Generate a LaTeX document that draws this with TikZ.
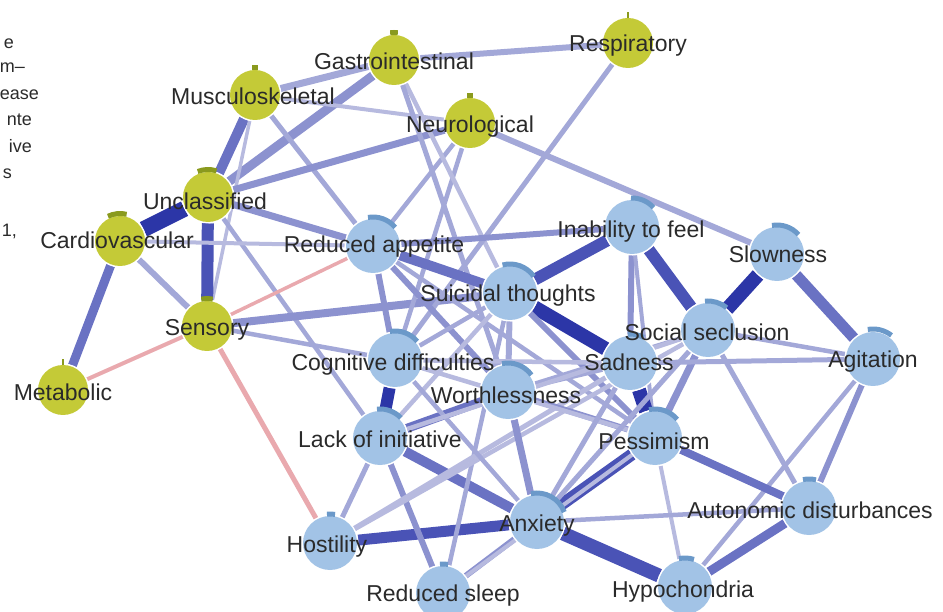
\documentclass[tikz,border=0pt]{standalone}
\usepackage{fontspec}
\setmainfont{Liberation Sans}
\definecolor{w1}{HTML}{B7BADF}
\definecolor{w2}{HTML}{A3A8D8}
\definecolor{w3}{HTML}{8C92CF}
\definecolor{w4}{HTML}{6A72C3}
\definecolor{w5}{HTML}{4A53B6}
\definecolor{w6}{HTML}{2C36A7}
\definecolor{pk}{HTML}{E9A9AE}
\definecolor{ycol}{HTML}{C4CA37}
\definecolor{ytab}{HTML}{8A9A1E}
\definecolor{bcol}{HTML}{A2C3E6}
\definecolor{btab}{HTML}{6B99C9}
\definecolor{labcol}{HTML}{2A2A2A}
\begin{document}
\begin{tikzpicture}[x=1pt,y=1pt,
  yel/.style={circle, fill=ycol, draw=white, line width=2.5pt, minimum size=50pt, inner sep=0pt},
  blu/.style={circle, fill=bcol, draw=white, line width=2.5pt, minimum size=54pt, inner sep=0pt},
  lab/.style={font=\fontsize{23}{25}\selectfont, text=labcol, inner sep=0pt, anchor=base},
  captxt/.style={font=\fontsize{18}{20}\selectfont, text=labcol, inner sep=0pt, anchor=base east},
  ed/.style 2 args={draw=#2, line width=#1pt},
  ytabs/.style={draw=ytab, line width=5pt},
  btabs/.style={draw=btab, line width=5pt}]
\useasboundingbox (0,-612) rectangle (943,0);
\clip (0,-612) rectangle (943,0);
% caption fragments
\node[captxt] (c1) at (14,-49) {e};
\node[captxt] (c2) at (25,-73) {m–};
\node[captxt] (c3) at (39,-100) {ease};
\node[captxt] (c4) at (32,-126) {nte};
\node[captxt] (c5) at (32,-153) {ive};
\node[captxt] (c6) at (12,-179) {s};
\node[captxt] (c7) at (17,-237) {1,};
% node circles
\node[yel] (GI) at (394,-60) {};
\node[yel] (MS) at (255,-95) {};
\node[yel] (NE) at (470,-123) {};
\node[yel] (RE) at (628,-43) {};
\node[yel] (UN) at (208,-197) {};
\node[yel] (CA) at (120,-241) {};
\node[yel] (SE) at (207,-326) {};
\node[yel] (ME) at (63,-390) {};
\node[blu] (RA) at (373,-246) {};
\node[blu] (ST) at (510,-293) {};
\node[blu] (IF) at (632,-227) {};
\node[blu] (SL) at (777,-254) {};
\node[blu] (SS) at (708,-330) {};
\node[blu] (SA) at (630,-363) {};
\node[blu] (AG) at (873,-359) {};
\node[blu] (CD) at (395,-360) {};
\node[blu] (WO) at (508,-392) {};
\node[blu] (LI) at (380,-438) {};
\node[blu] (PE) at (655,-438) {};
\node[blu] (AN) at (537,-522) {};
\node[blu] (HO) at (330,-543) {};
\node[blu] (RS) at (443,-593) {};
\node[blu] (AD) at (809,-508) {};
\node[blu] (HY) at (685,-587) {};
% edges
\draw[ed={6}{w2}] (GI) -- (RE);
\draw[ed={7}{w2}] (GI) -- (MS);
\draw[ed={9}{w3}] (GI) -- (UN);
\draw[ed={10}{w4}] (MS) -- (UN);
\draw[ed={4}{w1}] (MS) -- (NE);
\draw[ed={5}{w2}] (MS) -- (RA);
\draw[ed={3.5}{w1}] (MS) -- (SE);
\draw[ed={7}{w3}] (UN) -- (NE);
\draw[ed={16}{w6}] (UN) -- (CA);
\draw[ed={12}{w5}] (UN) -- (SE);
\draw[ed={7}{w3}] (UN) -- (RA);
\draw[ed={4.5}{w2}] (UN) -- (LI);
\draw[ed={9}{w4}] (CA) -- (ME);
\draw[ed={6}{w2}] (CA) -- (SE);
\draw[ed={4}{w1}] (CA) -- (RA);
\draw[ed={4}{pk}] (SE) -- (ME);
\draw[ed={3.5}{pk}] (SE) -- (RA);
\draw[ed={5}{pk}] (SE) -- (HO);
\draw[ed={8}{w3}] (SE) -- (ST);
\draw[ed={4.5}{w2}] (SE) -- (CD);
\draw[ed={4.5}{w2}] (NE) -- (RA);
\draw[ed={4.5}{w2}] (NE) -- (CD);
\draw[ed={6}{w2}] (NE) -- (SL);
\draw[ed={4.5}{w1}] (GI) -- (ST);
\draw[ed={5}{w2}] (GI) -- (WO);
\draw[ed={5}{w2}] (RE) -- (CD);
\draw[ed={6}{w3}] (RA) -- (IF);
\draw[ed={10}{w4}] (RA) -- (ST);
\draw[ed={6}{w3}] (RA) -- (CD);
\draw[ed={6}{w3}] (RA) -- (WO);
\draw[ed={4.5}{w2}] (RA) -- (PE);
\draw[ed={12}{w5}] (ST) -- (IF);
\draw[ed={14}{w6}] (ST) -- (SA);
\draw[ed={6}{w3}] (ST) -- (PE);
\draw[ed={6}{w2}] (ST) -- (WO);
\draw[ed={4.5}{w2}] (ST) -- (CD);
\draw[ed={4.5}{w1}] (ST) -- (LI);
\draw[ed={12}{w5}] (IF) -- (SS);
\draw[ed={6}{w3}] (IF) -- (SA);
\draw[ed={4}{w2}] (IF) -- (PE);
\draw[ed={14}{w6}] (SL) -- (SS);
\draw[ed={11}{w4}] (SL) -- (AG);
\draw[ed={4.5}{w2}] (SS) -- (AG);
\draw[ed={7}{w3}] (SS) -- (PE);
\draw[ed={5}{w2}] (SS) -- (AD);
\draw[ed={5}{w2}] (SA) -- (AG);
\draw[ed={14}{w6}] (SA) -- (PE);
\draw[ed={6}{w3}] (AG) -- (AD);
\draw[ed={4.5}{w2}] (AG) -- (HY);
\draw[ed={8}{w4}] (PE) -- (AD);
\draw[ed={4}{w1}] (PE) -- (HY);
\draw[ed={12}{w5}] (PE) -- (AN);
\draw[ed={9}{w4}] (AD) -- (HY);
\draw[ed={4.5}{w2}] (AD) -- (AN);
\draw[ed={14}{w5}] (AN) -- (HY);
\draw[ed={11}{w5}] (AN) -- (HO);
\draw[ed={10}{w4}] (AN) -- (LI);
\draw[ed={6}{w3}] (AN) -- (RS);
\draw[ed={4}{w1}] (RS) -- (PE);
\draw[ed={4.5}{w2}] (RS) -- (ST);
\draw[ed={5}{w2}] (LI) -- (HO);
\draw[ed={6}{w3}] (LI) -- (RS);
\draw[ed={9}{w4}] (LI) -- (WO);
\draw[ed={12}{w6}] (CD) -- (LI);
\draw[ed={5}{w1}] (HO) -- (SA);
\draw[ed={4.5}{w1}] (HO) -- (SS);
\draw[ed={7}{w3}] (WO) -- (AN);
\draw[ed={4.5}{w2}] (WO) -- (SA);
\draw[ed={4.5}{w2}] (WO) -- (SS);
\draw[ed={6}{w3}] (WO) -- (PE);
\draw[ed={4.5}{w1}] (CD) -- (SA);
\draw[ed={4.5}{w1}] (CD) -- (PE);
\draw[ed={4.5}{w2}] (CD) -- (AN);
\draw[ed={4.5}{w1}] (LI) -- (SS);
\draw[ed={5}{w2}] (AN) -- (SS);
\draw[ed={5}{w2}] (AN) -- (SA);
% circles redrawn on top of edges
\foreach \n in {GI,MS,NE,RE,UN,CA,SE,ME}
  {\fill[white] (\n.center) circle (26.5); \fill[ycol] (\n.center) circle (25);}
\foreach \n in {RA,ST,IF,SL,SS,SA,AG,CD,WO,LI,PE,AN,HO,RS,AD,HY}
  {\fill[white] (\n.center) circle (28.5); \fill[bcol] (\n.center) circle (27);}
% tabs on yellow nodes
\draw[ytabs] (GI.center) ++(98:27.5) arc[start angle=98, end angle=82, radius=27.5];
\draw[ytabs] (MS.center) ++(96:27.5) arc[start angle=96, end angle=84, radius=27.5];
\draw[ytabs] (NE.center) ++(96:27.5) arc[start angle=96, end angle=84, radius=27.5];
\draw[ytab, line width=1.5pt] (RE.center) ++(90:25) -- ++(0,6);
\draw[ytabs] (UN.center) ++(112:27.5) arc[start angle=112, end angle=72, radius=27.5];
\draw[ytabs] (CA.center) ++(116:27.5) arc[start angle=116, end angle=76, radius=27.5];
\draw[ytabs] (SE.center) ++(102:27.5) arc[start angle=102, end angle=78, radius=27.5];
\draw[ytab, line width=1.5pt] (ME.center) ++(90:25) -- ++(0,6);
% arcs on blue nodes
\draw[btabs] (RA.center) ++(100:29) arc[start angle=100, end angle=40, radius=29];
\draw[btabs] (ST.center) ++(105:29) arc[start angle=105, end angle=35, radius=29];
\draw[btabs] (IF.center) ++(92:29) arc[start angle=92, end angle=42, radius=29];
\draw[btabs] (SL.center) ++(100:29) arc[start angle=100, end angle=42, radius=29];
\draw[btabs] (SS.center) ++(96:29) arc[start angle=96, end angle=50, radius=29];
\draw[btabs] (SA.center) ++(94:29) arc[start angle=94, end angle=62, radius=29];
\draw[btabs] (AG.center) ++(100:30) arc[start angle=100, end angle=52, radius=30];
\draw[btabs] (CD.center) ++(100:29) arc[start angle=100, end angle=40, radius=29];
\draw[btabs] (WO.center) ++(102:29) arc[start angle=102, end angle=36, radius=29];
\draw[btabs] (LI.center) ++(96:29) arc[start angle=96, end angle=44, radius=29];
\draw[btabs] (PE.center) ++(102:29) arc[start angle=102, end angle=40, radius=29];
\draw[btabs] (AN.center) ++(102:29) arc[start angle=102, end angle=20, radius=29];
\draw[btabs] (HO.center) ++(96:29) arc[start angle=96, end angle=80, radius=29];
\draw[btabs] (RS.center) ++(96:29) arc[start angle=96, end angle=80, radius=29];
\draw[btabs] (AD.center) ++(102:29) arc[start angle=102, end angle=76, radius=29];
\draw[btabs] (HY.center) ++(102:29) arc[start angle=102, end angle=72, radius=29];
% labels
\node[lab] (GIt) at (394,-70) {Gastrointestinal};
\node[lab] (MSt) at (253,-105) {Musculoskeletal};
\node[lab] (NEt) at (470,-133) {Neurological};
\node[lab] (REt) at (628,-52) {Respiratory};
\node[lab] (UNt) at (205,-210) {Unclassified};
\node[lab] (CAt) at (117,-249) {Cardiovascular};
\node[lab] (SEt) at (207,-336) {Sensory};
\node[lab] (MEt) at (63,-401) {Metabolic};
\node[lab] (RAt) at (374,-253) {Reduced appetite};
\node[lab] (STt) at (508,-302) {Suicidal thoughts};
\node[lab] (IFt) at (631,-238) {Inability to feel};
\node[lab] (SLt) at (778,-263) {Slowness};
\node[lab] (SSt) at (707,-341) {Social seclusion};
\node[lab] (SAt) at (629,-371) {Sadness};
\node[lab] (AGt) at (873,-368) {Agitation};
\node[lab] (CDt) at (393,-371) {Cognitive difficulties};
\node[lab] (WOt) at (506,-403) {Worthlessness};
\node[lab] (LIt) at (380,-447) {Lack of initiative};
\node[lab] (PEt) at (654,-449) {Pessimism};
\node[lab] (ANt) at (537,-531) {Anxiety};
\node[lab] (HOt) at (327,-552) {Hostility};
\node[lab] (RSt) at (443,-601) {Reduced sleep};
\node[lab] (ADt) at (810,-518) {Autonomic disturbances};
\node[lab] (HYt) at (683,-597) {Hypochondria};
\end{tikzpicture}
\end{document}
